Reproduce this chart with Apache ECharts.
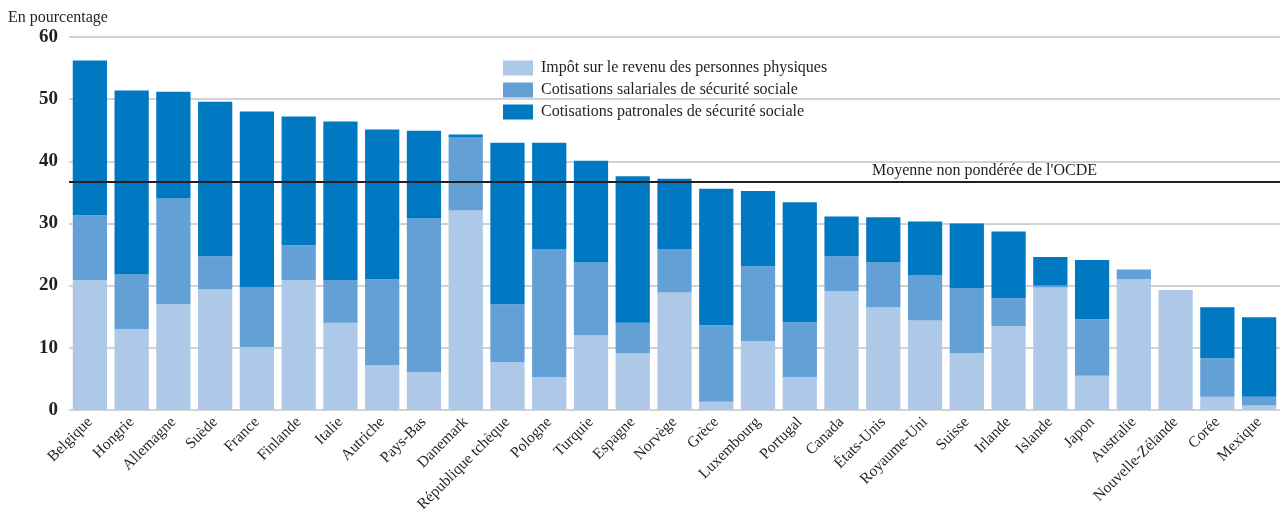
<!DOCTYPE html>
<html>
<head>
<meta charset="utf-8">
<script src="https://cdn.jsdelivr.net/npm/echarts@6/dist/echarts.min.js"></script>
<style>
html, body { margin: 0; padding: 0; background: #fff; }
#plot { width: 1284px; height: 515px; }
</style>
</head>
<body>
<div id="plot"></div>
<script>
// pays, tries par coin fiscal total
var pays = ['Belgique', 'Hongrie', 'Allemagne', 'Suède', 'France', 'Finlande', 'Italie', 'Autriche', 'Pays-Bas', 'Danemark',
    'République tchèque', 'Pologne', 'Turquie', 'Espagne', 'Norvège', 'Grèce', 'Luxembourg', 'Portugal', 'Canada', 'États-Unis',
    'Royaume-Uni', 'Suisse', 'Irlande', 'Islande', 'Japon', 'Australie', 'Nouvelle-Zélande', 'Corée', 'Mexique'];

var impotRevenu = [20.9, 13.0, 17.0, 19.4, 10.1, 20.9, 14.0, 7.2, 6.1, 32.1,
    7.7, 5.3, 12.0, 9.1, 18.9, 1.3, 11.1, 5.3, 19.1, 16.5,
    14.4, 9.1, 13.5, 19.7, 5.5, 21.0, 19.3, 2.1, 0.7];
var cotisSalariales = [10.4, 8.8, 17.0, 5.3, 9.6, 5.6, 6.9, 13.8, 24.7, 11.8,
    9.3, 20.5, 11.8, 4.9, 6.9, 12.3, 12.0, 8.8, 5.6, 7.3,
    7.3, 10.5, 4.5, 0.3, 9.1, 1.6, 0, 6.2, 1.4];
var cotisPatronales = [24.9, 29.6, 17.2, 24.9, 28.3, 20.7, 25.5, 24.1, 14.1, 0.4,
    26.0, 17.2, 16.3, 23.6, 11.4, 22.0, 12.1, 19.3, 6.4, 7.2,
    8.6, 10.4, 10.7, 4.6, 9.5, 0, 0, 8.2, 12.8];

var moyenneOCDE = 36.7;
var yTicks = [0, 10, 20, 30, 40, 50, 60];

var serif = '"Liberation Serif", "DejaVu Serif", serif';
var ink = '#231f20';

var chart = echarts.init(document.getElementById('plot'));

chart.setOption({
    animation: false,
    textStyle: { fontFamily: serif, color: ink },
    grid: { left: 69, right: 4, top: 37, bottom: 104 },
    legend: {
        orient: 'vertical',
        left: 498,
        top: 55,
        itemWidth: 30,
        itemHeight: 15,
        itemGap: 6,
        icon: 'rect',
        textStyle: { fontFamily: serif, fontSize: 16, color: ink, padding: [0, 0, 0, 3] },
        data: ['Impôt sur le revenu des personnes physiques', 'Cotisations salariales de sécurité sociale', 'Cotisations patronales de sécurité sociale']
    },
    graphic: [{
        type: 'text',
        left: 8,
        top: 10,
        style: { text: 'En pourcentage', font: '16px ' + serif, fill: ink }
    }],
    xAxis: {
        type: 'category',
        data: pays,
        axisTick: { show: false },
        axisLine: { show: false },
        axisLabel: {
            rotate: 45,
            interval: 0,
            margin: 10,
            fontFamily: serif,
            fontSize: 15.5,
            color: ink
        }
    },
    yAxis: {
        type: 'value',
        min: yTicks[0],
        max: yTicks[yTicks.length - 1],
        interval: 10,
        axisLine: { show: false },
        axisTick: { show: false },
        splitLine: { lineStyle: { color: '#d2d2d2', width: 2 } },
        axisLabel: {
            margin: 11,
            fontFamily: serif,
            fontSize: 19,
            fontWeight: 'bold',
            color: ink
        }
    },
    series: [{
        name: 'Impôt sur le revenu des personnes physiques',
        type: 'bar',
        stack: 'coin',
        barCategoryGap: '18%',
        itemStyle: { color: '#aec9e7' },
        data: impotRevenu
    }, {
        name: 'Cotisations salariales de sécurité sociale',
        type: 'bar',
        stack: 'coin',
        itemStyle: { color: '#63a0d6' },
        data: cotisSalariales
    }, {
        name: 'Cotisations patronales de sécurité sociale',
        type: 'bar',
        stack: 'coin',
        itemStyle: { color: '#0079c2' },
        data: cotisPatronales,
        markLine: {
            silent: true,
            symbol: 'none',
            lineStyle: { color: ink, width: 2, type: 'solid' },
            label: {
                show: true,
                position: 'insideEndTop',
                formatter: "Moyenne non pondérée de l'OCDE",
                fontFamily: serif,
                fontSize: 16,
                color: ink,
                distance: 3,
                padding: [0, 180, 0, 0]
            },
            data: [{ yAxis: moyenneOCDE }]
        }
    }]
});
</script>
</body>
</html>
